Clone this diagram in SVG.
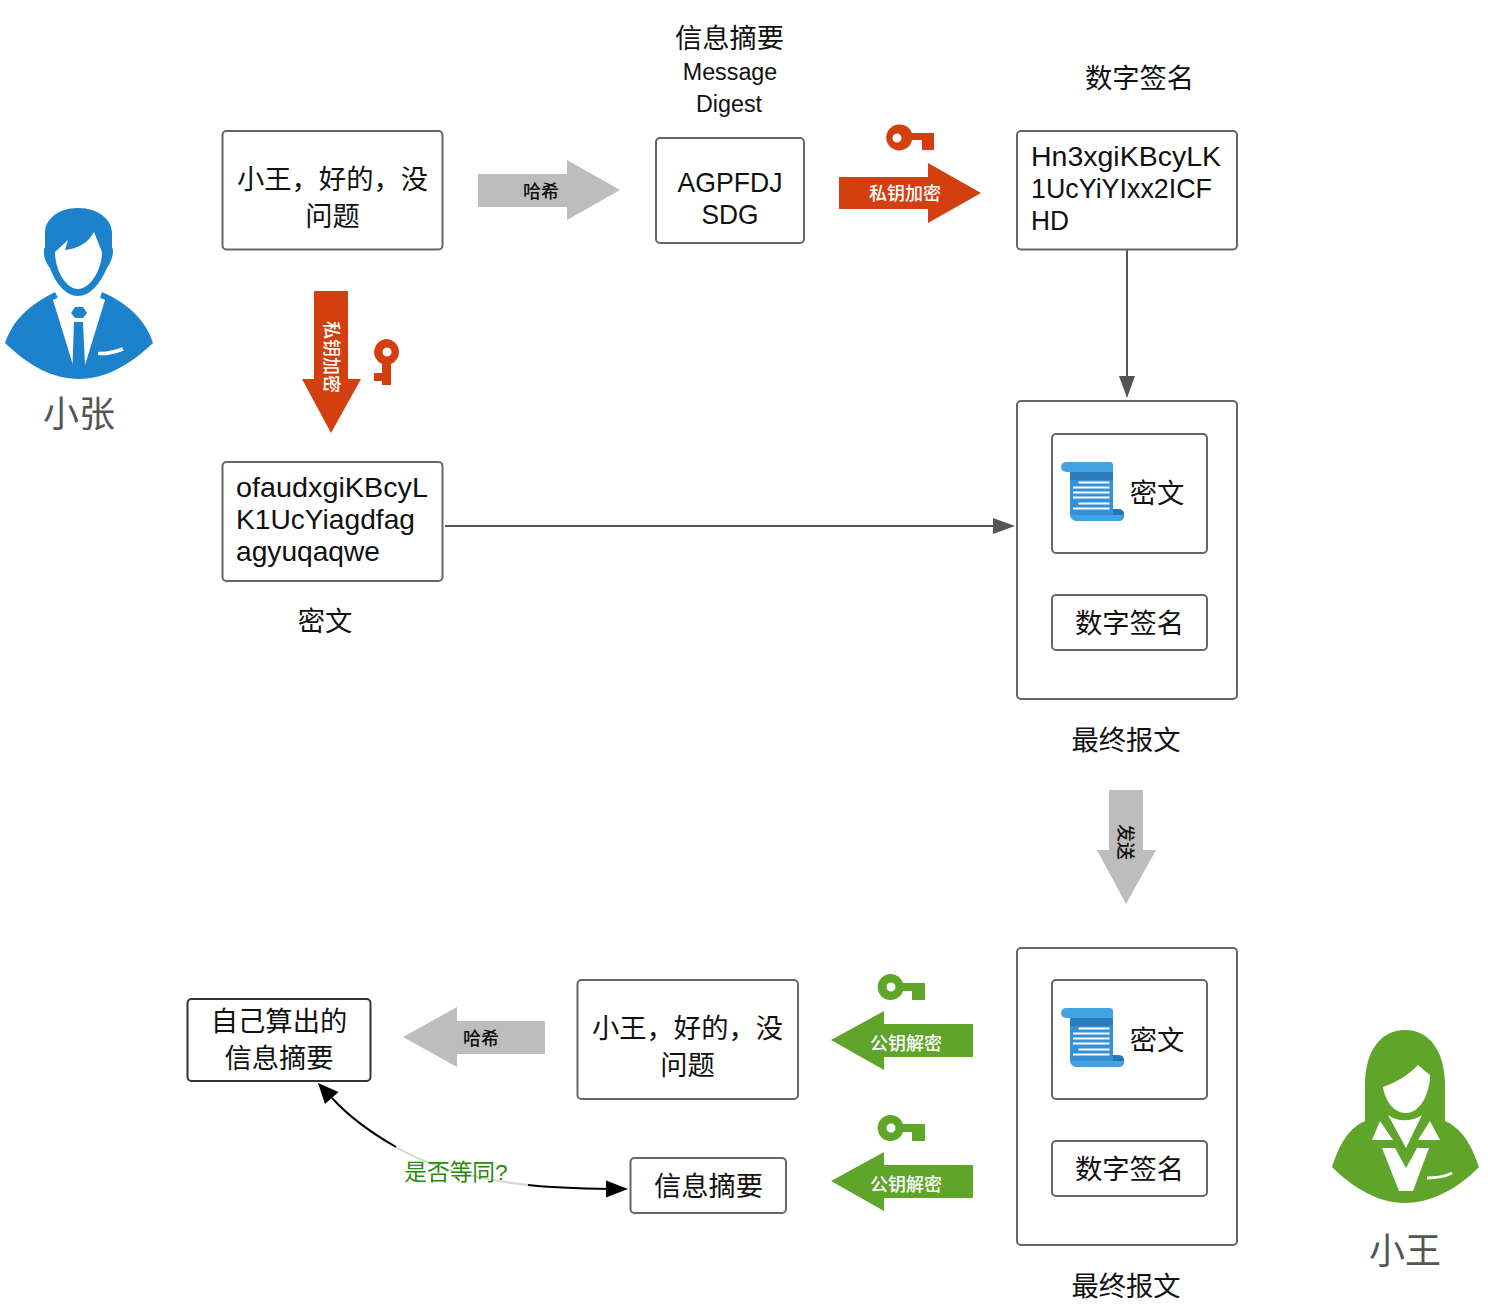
<svg xmlns="http://www.w3.org/2000/svg" width="1488" height="1308" viewBox="0 0 1488 1308">
<style>
text{font-family:"Liberation Sans","Noto Sans CJK SC",sans-serif;font-size:27.3px;fill:#111;text-anchor:middle}
.l{text-anchor:start}
.box{fill:#fff;stroke:#666;stroke-width:2;rx:4px}
.dark{fill:#fff;stroke:#333;stroke-width:2;rx:4px}
.lab{font-size:18px;font-weight:500}
.labw{font-size:18px;font-weight:500;fill:#fff}
.latin{font-size:23.3px}
.red{fill:#d33f10}
.green{fill:#5fa52a}
.gray{fill:#bdbdbd}
.who{font-size:36px;fill:#555}
.line{fill:none;stroke:#555;stroke-width:2}
.cv{fill:none;stroke:#000;stroke-width:2}
.cv2{fill:none;stroke:#d4d4d4;stroke-width:2}
</style>
<defs>
<marker id="ag" markerUnits="userSpaceOnUse" markerWidth="22" markerHeight="18" viewBox="0 0 22 18" refX="20" refY="9" orient="auto"><path d="M0 1L22 9L0 17Z" fill="#555"/></marker>
<g id="scroll">
<path d="M1113 509H1118Q1124 509 1124 515T1118 521H1100V509Z" fill="#2a76b4"/>
<path d="M1070 470H1113V516H1124Q1123 521 1118 521H1078Q1070 521 1070 513Z" fill="#3590d8"/>
<path d="M1113 509H1118Q1124 509 1124 515H1113Z" fill="#2a76b4"/>
<rect x="1070" y="470" width="43" height="10" fill="#2a7cbd"/>
<path d="M1066 462H1110Q1113 462 1113 465V472H1066A5 5 0 0 1 1066 462Z" fill="#41a3e4"/>
<path d="M1070 515H1124Q1123 521 1118 521H1078Q1071 521 1070 515Z" fill="#41a3e4"/>
<path d="M1078.500 482.500H1109.500M1073 487.500H1109.500M1073 492.500H1109.500M1073 497.500H1109.500M1078.500 503.500H1109.500M1073 508.500H1109.500" stroke="#fff" stroke-width="1.800" fill="none"/>
</g>
<path id="gkey" d="M890 974A13 13 0 1 0 903 991H912V1000H925V983H903A13 13 0 0 0 890 974ZM891 982.500A4.500 4.500 0 1 1 891 991.500A4.500 4.500 0 1 1 891 982.500Z" fill="#5fa52a" fill-rule="evenodd"/>
</defs>
<rect width="1488" height="1308" fill="#fff"/>

<g id="connectors">
<path class="line" d="M1127 249V396" marker-end="url(#ag)"/>
<path class="line" d="M445 526H1013" marker-end="url(#ag)"/>
<path class="cv" d="M612 1189C583 1188.500 555 1188 528 1185"/>
<path class="cv2" d="M528 1185C480 1180 435 1170 396 1147"/>
<path class="cv" d="M396 1147C375 1135 352 1120 332 1098"/>
<path d="M628 1189L606 1180.500V1197.500Z" fill="#000"/>
<path d="M318 1083L325 1104L338.500 1092Z" fill="#000"/>
</g>

<g id="user-zhang">
<path d="M5 343C15 316 32 304 55 292L58 298L53 300L78 340L105 300L100 298L102 292C125 302 145 318 153 343C130 365 105 379 79 379C52 379 28 365 5 343Z" fill="#1b82cb"/>
<path d="M53 300L58 298L55 285H102L100 298L105 300L85 365H73Z" fill="#fff"/>
<path d="M78 208C57 208 45 220 45 233V247C43 250 43 260 50 268C56 284 66 296 78 296C90 296 100 284 107 268C113 260 114 250 112 247V233C112 220 99 208 78 208Z" fill="#1b82cb"/>
<path d="M55 252L68 240L65 250C75 249 84 245 90 238L94 232L102 252C102 270 90 289 78 289C66 289 55 270 55 252Z" fill="#fff"/>
<path d="M71 313L75 307H83L87 313L83 318H75ZM74 322H83L85 365L79 379L72.500 365Z" fill="#1b82cb"/>
<path d="M98 353.500C107 354 115 352 123 349" stroke="#fff" stroke-width="3.500" fill="none"/>
<text class="who" x="79" y="427">小张</text>
</g>

<g id="user-wang">
<path d="M1405 1030C1380 1030 1365 1052 1365 1085V1121C1345 1130 1338 1150 1332 1167C1352 1187 1378 1203 1405 1203C1432 1203 1460 1187 1479 1167C1473 1150 1465 1130 1445 1121V1085C1445 1052 1430 1030 1405 1030Z" fill="#5fa52a"/>
<path d="M1383 1087C1397 1082 1410 1074 1418 1065L1430 1075C1430 1092 1421 1113 1406 1113C1393 1113 1385 1100 1383 1087Z" fill="#fff"/>
<path d="M1388 1115C1397 1122 1412 1122 1422 1115L1406 1148Z" fill="#fff"/>
<path d="M1380 1121L1372 1140H1393ZM1430 1121L1418 1140H1440ZM1382 1148L1399 1191H1413L1429 1148H1417L1406 1168L1395 1148Z" fill="#fff"/>
<path d="M1427 1178C1436 1178 1444 1177 1452 1173" stroke="#fff" stroke-width="3" fill="none"/>
<text class="who" x="1405" y="1264">小王</text>
</g>

<g id="digest-title">
<text x="729.500" y="48">信息摘要</text>
<text class="latin" x="730" y="80">Message</text>
<text class="latin" x="729" y="112">Digest</text>
</g>
<g id="signature-title"><text x="1139.500" y="88">数字签名</text></g>

<g id="msg-top"><rect class="box" x="222.500" y="131" width="220" height="118.500"/><text x="332.500" y="189">小王，好的，没</text><text x="332.500" y="226">问题</text></g>
<g id="digest-box"><rect class="box" x="656" y="138" width="148" height="105"/><text x="730" y="192" textLength="105" lengthAdjust="spacingAndGlyphs">AGPFDJ</text><text x="730" y="224" textLength="57" lengthAdjust="spacingAndGlyphs">SDG</text></g>
<g id="signature-box"><rect class="box" x="1017" y="131" width="220" height="118.500"/><text class="l" x="1031" y="166" textLength="190" lengthAdjust="spacingAndGlyphs">Hn3xgiKBcyLK</text><text class="l" x="1031" y="198" textLength="181" lengthAdjust="spacingAndGlyphs">1UcYiYIxx2ICF</text><text class="l" x="1031" y="230" textLength="38" lengthAdjust="spacingAndGlyphs">HD</text></g>
<g id="cipher-box"><rect class="box" x="222.500" y="462" width="220" height="119"/><text class="l" x="236" y="497" textLength="192" lengthAdjust="spacingAndGlyphs">ofaudxgiKBcyL</text><text class="l" x="236" y="529" textLength="179" lengthAdjust="spacingAndGlyphs">K1UcYiagdfag</text><text class="l" x="236" y="561" textLength="144" lengthAdjust="spacingAndGlyphs">agyuqaqwe</text><text x="325" y="631">密文</text></g>

<g id="final-top">
<rect class="box" x="1017" y="401" width="220" height="298"/>
<rect class="box" x="1052" y="434" width="155" height="119"/>
<use href="#scroll"/>
<text x="1157" y="503">密文</text>
<rect class="box" x="1052" y="595" width="155" height="55"/>
<text x="1129.500" y="633">数字签名</text>
<text x="1126" y="750">最终报文</text>
</g>

<g id="final-bottom">
<rect class="box" x="1017" y="948" width="220" height="297"/>
<rect class="box" x="1052" y="980" width="155" height="119"/>
<use href="#scroll" y="546"/>
<text x="1157" y="1050">密文</text>
<rect class="box" x="1052" y="1141" width="155" height="55"/>
<text x="1129.500" y="1179">数字签名</text>
<text x="1126" y="1296">最终报文</text>
</g>

<g id="msg-bottom"><rect class="box" x="577.500" y="980" width="220.500" height="119"/><text x="687.500" y="1038">小王，好的，没</text><text x="687.500" y="1075">问题</text></g>
<g id="digest-received"><rect class="box" x="630.500" y="1158" width="155.500" height="55"/><text x="708.500" y="1196">信息摘要</text></g>
<g id="digest-own"><rect class="dark" x="187.500" y="999" width="183" height="82"/><text x="279" y="1031">自己算出的</text><text x="279" y="1068">信息摘要</text></g>

<g id="arrow-hash-top"><path class="gray" d="M478 174H567V160L620 190L567 220V207H478Z"/><text class="lab" x="541" y="198">哈希</text></g>
<g id="arrow-sign"><path class="red" d="M839 177H928V163L981 193L928 223V209H839Z"/><text class="labw" x="905" y="200">私钥加密</text>
<path class="red" fill-rule="evenodd" d="M899 124.500A13 13 0 1 0 912 140H922V150H934V133H912A13 13 0 0 0 899 124.500ZM897 133.500A4.500 4.500 0 1 1 897 142.500A4.500 4.500 0 1 1 897 133.500Z"/></g>
<g id="arrow-encrypt"><path class="red" d="M314 291H348V379H361L331 433L302 379H314Z"/><text class="labw" transform="translate(331 357) rotate(90)" y="6">私钥加密</text>
<path class="red" fill-rule="evenodd" d="M387 339A13 13 0 0 0 382 364V373H374V381H382V385H391V364A13 13 0 0 0 387 339ZM387 347.500A4.500 4.500 0 1 1 387 356.500A4.500 4.500 0 1 1 387 347.500Z"/></g>
<g id="arrow-send"><path class="gray" d="M1109 790H1143V850H1156L1126 904L1097 850H1109Z"/><text class="lab" transform="translate(1125 842) rotate(90)" y="6">发送</text></g>
<g id="arrow-decrypt-1"><path class="green" d="M831 1040L884 1011V1024H973V1057H884V1070Z"/><text class="labw" x="906" y="1050">公钥解密</text><use href="#gkey"/></g>
<g id="arrow-decrypt-2"><path class="green" d="M831 1181L884 1152V1165H973V1198H884V1211Z"/><text class="labw" x="906" y="1191">公钥解密</text><use href="#gkey" y="141"/></g>
<g id="arrow-hash-bottom"><path class="gray" d="M403 1037L457 1007V1021H545V1054H457V1067Z"/><text class="lab" x="481" y="1045">哈希</text></g>
<g id="compare-label"><text x="456" y="1180" style="font-size:22.700px;fill:#2a8a0f">是否等同?</text></g>
</svg>
